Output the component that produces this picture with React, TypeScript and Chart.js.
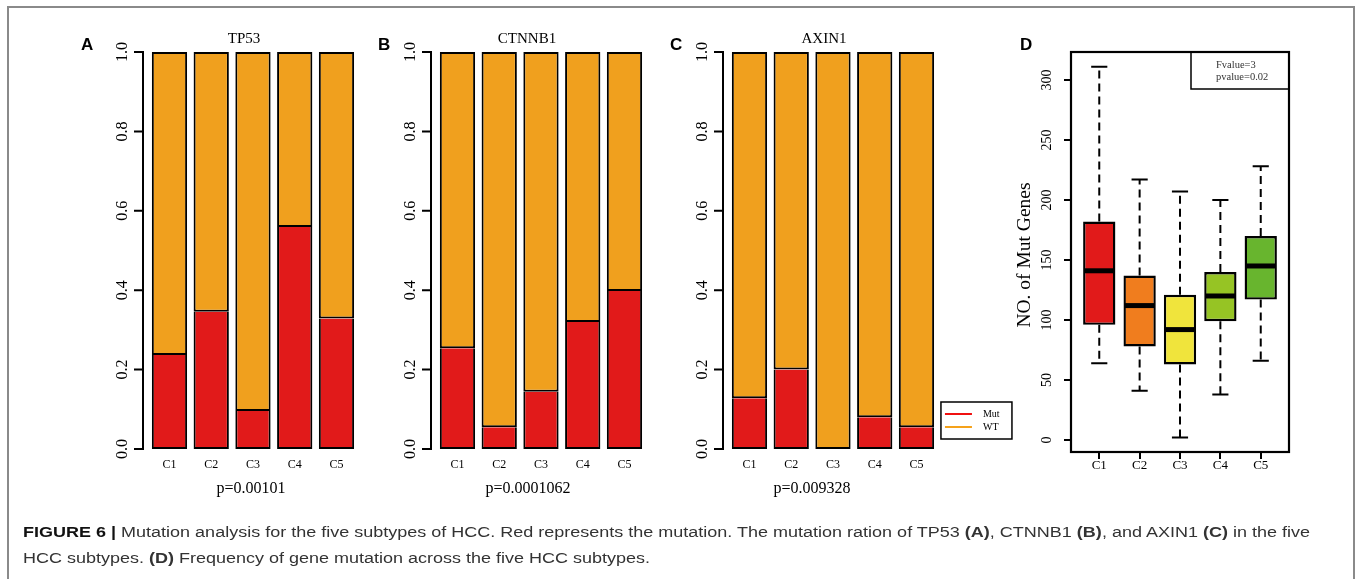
import React, { useEffect, useLayoutEffect, useRef } from 'react';
import { Chart, registerables } from 'chart.js';
Chart.register(...registerables);

// ---------- data ----------
const CATEGORIES = ['C1', 'C2', 'C3', 'C4', 'C5'];
const GENES = ['TP53', 'CTNNB1', 'AXIN1'];
const P_VALUES = ['p=0.00101', 'p=0.0001062', 'p=0.009328'];
const RATIO_TICKS = [0, 0.2, 0.4, 0.6, 0.8, 1.0];

const TP53_MUT = [0.237, 0.346, 0.096, 0.559, 0.329];
const TP53_WT = [0.763, 0.654, 0.904, 0.441, 0.671];
const CTNNB1_MUT = [0.254, 0.055, 0.144, 0.32, 0.398];
const CTNNB1_WT = [0.746, 0.945, 0.856, 0.68, 0.602];
const AXIN1_MUT = [0.128, 0.2, 0.0, 0.08, 0.055];
const AXIN1_WT = [0.872, 0.8, 1.0, 0.92, 0.945];

const BOX_MIN = [64, 41, 2, 38, 66];
const BOX_Q1 = [96, 78, 63, 99, 117];
const BOX_MEDIAN = [141, 112, 92, 120, 145];
const BOX_Q3 = [182, 137, 121, 140, 170];
const BOX_MAX = [311, 217, 207, 200, 228];
const COUNT_TICKS = [0, 50, 100, 150, 200, 250, 300];
const STAT_LINES = ['Fvalue=3', 'pvalue=0.02'];
const Y_TITLE = 'NO. of Mut Genes';

// ---------- styles ----------
const SERIF = '"Liberation Serif", "Times New Roman", serif';
const SANS = '"Liberation Sans", Arial, sans-serif';
const RED = '#E11A1A';
const ORANGE = '#F0A01E';
const LEGEND_RED = '#F01010';
const LEGEND_ORANGE = '#F5A21A';
const BOX_COLORS = ['#E11A1A', '#F07D1E', '#F0E43C', '#96C424', '#68B52E'];
const W = 1360;
const H = 579;

type TextItem = {
  text: string; x: number; y: number; size: number; family?: string; weight?: string;
  align?: CanvasTextAlign; baseline?: CanvasTextBaseline; rotate?: number; color?: string;
};

function drawTexts(ctx: CanvasRenderingContext2D, items: TextItem[]) {
  items.forEach((it) => {
    ctx.save();
    ctx.font = `${it.weight || 'normal'} ${it.size}px ${it.family || SERIF}`;
    ctx.fillStyle = it.color || '#000';
    ctx.textAlign = it.align || 'center';
    ctx.textBaseline = it.baseline || 'alphabetic';
    ctx.translate(it.x, it.y);
    if (it.rotate) ctx.rotate(it.rotate);
    ctx.fillText(it.text, 0, 0);
    ctx.restore();
  });
}

// panel geometry (chart areas)
const BAR_AREAS = [
  { left: 148.6, right: 357.35, top: 52, bottom: 449 },
  { left: 436.6, right: 645.35, top: 52, bottom: 449 },
  { left: 728.6, right: 937.35, top: 52, bottom: 449 },
];
const TITLE_X = [244, 527, 824];
const PVAL_X = [251, 528, 812];
const LETTER_X = [81, 378, 670];
const LETTERS = ['A', 'B', 'C'];
const YW = 40;
const XH = 30;

function barConfig(i: number, mut: number[], wt: number[]): any {
  const area = BAR_AREAS[i];
  const axisPlugin = {
    id: 'rAxis',
    afterDraw(chart: any) {
      const ctx = chart.ctx as CanvasRenderingContext2D;
      const ys = chart.scales.y;
      const x = chart.chartArea.left - 5.6;
      ctx.save();
      ctx.strokeStyle = '#000';
      ctx.lineWidth = 2;
      ctx.beginPath();
      ctx.moveTo(x, ys.getPixelForValue(0) + 1);
      ctx.lineTo(x, ys.getPixelForValue(1) - 1);
      ys.ticks.forEach((t: any) => {
        const y = ys.getPixelForValue(t.value);
        ctx.moveTo(x, y);
        ctx.lineTo(x - 9, y);
      });
      ctx.stroke();
      ctx.restore();
      const items: TextItem[] = [
        { text: LETTERS[i], x: LETTER_X[i], y: 50, size: 17, family: SANS, weight: 'bold', align: 'left' },
        { text: GENES[i], x: TITLE_X[i], y: 43, size: 15 },
        { text: P_VALUES[i], x: PVAL_X[i], y: 493, size: 16 },
      ];
      drawTexts(ctx, items);
      if (i === 2) {
        // legend
        const ds = chart.data.datasets;
        const bx = area.right + 3.6;
        ctx.save();
        ctx.strokeStyle = '#000';
        ctx.lineWidth = 1.5;
        ctx.strokeRect(bx, 402, 71, 37);
        const cols = [LEGEND_RED, LEGEND_ORANGE];
        ds.forEach((d: any, k: number) => {
          const y = 414 + k * 13;
          ctx.strokeStyle = cols[k];
          ctx.lineWidth = 2;
          ctx.beginPath();
          ctx.moveTo(bx + 4, y);
          ctx.lineTo(bx + 31, y);
          ctx.stroke();
          drawTexts(ctx, [{ text: d.label, x: bx + 42, y: y, size: 10, align: 'left', baseline: 'middle' }]);
        });
        ctx.restore();
      }
    },
  };
  const common = {
    borderColor: '#000',
    borderSkipped: false,
    categoryPercentage: 1,
    barPercentage: 0.845,
  };
  return {
    type: 'bar',
    data: {
      labels: CATEGORIES,
      datasets: [
        { ...common, label: 'Mut', data: mut, backgroundColor: RED, borderWidth: { top: 0, left: 2, right: 2, bottom: 2 } },
        { ...common, label: 'WT', data: wt, backgroundColor: ORANGE, borderWidth: { top: 2, left: 2, right: 2, bottom: 2 } },
      ],
    },
    options: {
      responsive: false,
      animation: false,
      devicePixelRatio: 1,
      layout: {
        padding: { left: area.left - YW, right: W - area.right, top: area.top, bottom: H - area.bottom - XH },
      },
      plugins: { legend: { display: false }, tooltip: { enabled: false }, title: { display: false } },
      scales: {
        x: {
          stacked: true,
          grid: { display: false, drawTicks: false },
          border: { display: false },
          ticks: { font: { family: SERIF, size: 12 }, color: '#000', padding: 8.8 },
          afterFit: (s: any) => { s.height = XH; },
        },
        y: {
          stacked: true,
          min: 0,
          max: 1,
          afterBuildTicks: (s: any) => { s.ticks = RATIO_TICKS.map((v) => ({ value: v })); },
          ticks: {
            callback: (v: any) => Number(v).toFixed(1),
            minRotation: 90,
            maxRotation: 90,
            crossAlign: 'center',
            padding: 15.6,
            font: { family: SERIF, size: 16 },
            color: '#000',
          },
          grid: { display: false, drawTicks: false },
          border: { display: false },
          afterFit: (s: any) => { s.width = YW; },
        },
      },
    },
    plugins: [axisPlugin],
  };
}

const BOX_AREA = { left: 1071, right: 1289, top: 52, bottom: 452 };

function boxConfig(): any {
  const a = BOX_AREA;
  const BYW = 60;
  const BXH = 30;
  const boxPlugin = {
    id: 'boxParts',
    afterDatasetsDraw(chart: any) {
      const ctx = chart.ctx as CanvasRenderingContext2D;
      const ys = chart.scales.y;
      const meta = chart.getDatasetMeta(0);
      ctx.save();
      ctx.strokeStyle = '#000';
      meta.data.forEach((bar: any, k: number) => {
        const { x, width } = bar.getProps(['x', 'width'], true);
        const half = width / 2;
        ctx.lineWidth = 2;
        ctx.setLineDash([8, 5]);
        ctx.beginPath();
        ctx.moveTo(x, ys.getPixelForValue(BOX_Q3[k]));
        ctx.lineTo(x, ys.getPixelForValue(BOX_MAX[k]));
        ctx.moveTo(x, ys.getPixelForValue(BOX_Q1[k]));
        ctx.lineTo(x, ys.getPixelForValue(BOX_MIN[k]));
        ctx.stroke();
        ctx.setLineDash([]);
        ctx.beginPath();
        ctx.moveTo(x - half / 2, ys.getPixelForValue(BOX_MAX[k]));
        ctx.lineTo(x + half / 2, ys.getPixelForValue(BOX_MAX[k]));
        ctx.moveTo(x - half / 2, ys.getPixelForValue(BOX_MIN[k]));
        ctx.lineTo(x + half / 2, ys.getPixelForValue(BOX_MIN[k]));
        ctx.stroke();
        ctx.lineWidth = 5;
        ctx.beginPath();
        ctx.moveTo(x - half + 1, ys.getPixelForValue(BOX_MEDIAN[k]));
        ctx.lineTo(x + half - 1, ys.getPixelForValue(BOX_MEDIAN[k]));
        ctx.stroke();
      });
      ctx.restore();
    },
    afterDraw(chart: any) {
      const ctx = chart.ctx as CanvasRenderingContext2D;
      const ca = chart.chartArea;
      ctx.save();
      ctx.strokeStyle = '#000';
      ctx.lineWidth = 2.2;
      ctx.strokeRect(ca.left, ca.top, ca.right - ca.left, ca.bottom - ca.top);
      // stats box
      ctx.lineWidth = 1.5;
      ctx.strokeRect(ca.right - 98, ca.top, 98, 37);
      ctx.restore();
      const items: TextItem[] = [
        { text: 'D', x: 1020, y: 50, size: 17, family: SANS, weight: 'bold', align: 'left' },
        { text: Y_TITLE, x: 1025, y: 255, size: 19.5, baseline: 'middle', rotate: -Math.PI / 2 },
        { text: STAT_LINES[0], x: ca.right - 73, y: 65, size: 10.5, align: 'left', baseline: 'middle', color: '#333' },
        { text: STAT_LINES[1], x: ca.right - 73, y: 77, size: 10.5, align: 'left', baseline: 'middle', color: '#333' },
      ];
      drawTexts(ctx, items);
    },
  };
  return {
    type: 'bar',
    data: {
      datasets: [
        {
          label: 'box',
          data: BOX_Q1.map((q1, k) => ({ x: k + 1, y: [q1, BOX_Q3[k]] })),
          backgroundColor: BOX_COLORS,
          borderColor: '#000',
          borderWidth: 2.4,
          borderSkipped: false,
          categoryPercentage: 1,
          barPercentage: 0.8,
        },
      ],
    },
    options: {
      responsive: false,
      animation: false,
      devicePixelRatio: 1,
      layout: {
        padding: { left: a.left - BYW, right: W - a.right, top: a.top, bottom: H - a.bottom - BXH },
      },
      plugins: { legend: { display: false }, tooltip: { enabled: false } },
      scales: {
        x: {
          type: 'linear',
          min: 0.3,
          max: 5.7,
          offset: false,
          afterBuildTicks: (s: any) => { s.ticks = CATEGORIES.map((_, k) => ({ value: k + 1 })); },
          ticks: {
            callback: (v: any) => CATEGORIES[Math.round(v) - 1],
            font: { family: SERIF, size: 13 },
            color: '#000',
            padding: -1.5,
            maxRotation: 0,
            minRotation: 0,
          },
          grid: { display: true, offset: false, drawOnChartArea: false, drawTicks: true, tickLength: 7, color: '#000', lineWidth: 2 },
          border: { display: false },
          afterFit: (s: any) => { s.height = BXH; },
        },
        y: {
          min: -10,
          max: 323.3,
          afterBuildTicks: (s: any) => { s.ticks = COUNT_TICKS.map((v) => ({ value: v })); },
          ticks: {
            callback: (v: any) => String(v),
            minRotation: 90,
            maxRotation: 90,
            crossAlign: 'center',
            padding: 6.5,
            font: { family: SERIF, size: 14 },
            color: '#000',
          },
          grid: { display: true, drawOnChartArea: false, drawTicks: true, tickLength: 7, color: '#000', lineWidth: 2 },
          border: { display: false },
          afterFit: (s: any) => { s.width = BYW; },
        },
      },
    },
    plugins: [boxPlugin],
  };
}

const CAPTION_TARGETS = [1287, 627];

export default function App() {
  const c0 = useRef<HTMLCanvasElement>(null);
  const c1 = useRef<HTMLCanvasElement>(null);
  const c2 = useRef<HTMLCanvasElement>(null);
  const c3 = useRef<HTMLCanvasElement>(null);
  const l1 = useRef<HTMLDivElement>(null);
  const l2 = useRef<HTMLDivElement>(null);

  useEffect(() => {
    const charts = [
      new Chart(c0.current!, barConfig(0, TP53_MUT, TP53_WT)),
      new Chart(c1.current!, barConfig(1, CTNNB1_MUT, CTNNB1_WT)),
      new Chart(c2.current!, barConfig(2, AXIN1_MUT, AXIN1_WT)),
      new Chart(c3.current!, boxConfig()),
    ];
    return () => charts.forEach((c) => c.destroy());
  }, []);

  useLayoutEffect(() => {
    [l1, l2].forEach((r, k) => {
      const el = r.current;
      if (!el) return;
      el.style.transform = 'none';
      const w = el.getBoundingClientRect().width;
      if (w > 0) el.style.transform = `scaleX(${CAPTION_TARGETS[k] / w})`;
    });
  }, []);

  const canvasStyle: React.CSSProperties = { position: 'absolute', left: 0, top: 0, width: W, height: H };
  const lineStyle: React.CSSProperties = {
    position: 'absolute', left: 23, whiteSpace: 'nowrap', fontFamily: SANS, fontSize: 15.5,
    lineHeight: '25px', color: '#333', transformOrigin: 'left top', display: 'inline-block',
  };
  return (
    <div style={{ position: 'fixed', left: 0, top: 0, width: W, height: H, background: '#fff', overflow: 'hidden' }}>
      <div style={{ position: 'absolute', left: 7, top: 6, width: 1348, height: 640, border: '2px solid #8a8a8a', boxSizing: 'border-box' }} />
      <canvas ref={c0} width={W} height={H} style={canvasStyle} />
      <canvas ref={c1} width={W} height={H} style={canvasStyle} />
      <canvas ref={c2} width={W} height={H} style={canvasStyle} />
      <canvas ref={c3} width={W} height={H} style={canvasStyle} />
      <div ref={l1} style={{ ...lineStyle, top: 519 }}>
        <b style={{ color: '#111' }}>FIGURE 6 |</b> Mutation analysis for the five subtypes of HCC. Red represents the mutation. The mutation ration of TP53 <b>(A)</b>, CTNNB1 <b>(B)</b>, and AXIN1 <b>(C)</b> in the five
      </div>
      <div ref={l2} style={{ ...lineStyle, top: 545 }}>
        HCC subtypes. <b>(D)</b> Frequency of gene mutation across the five HCC subtypes.
      </div>
    </div>
  );
}
